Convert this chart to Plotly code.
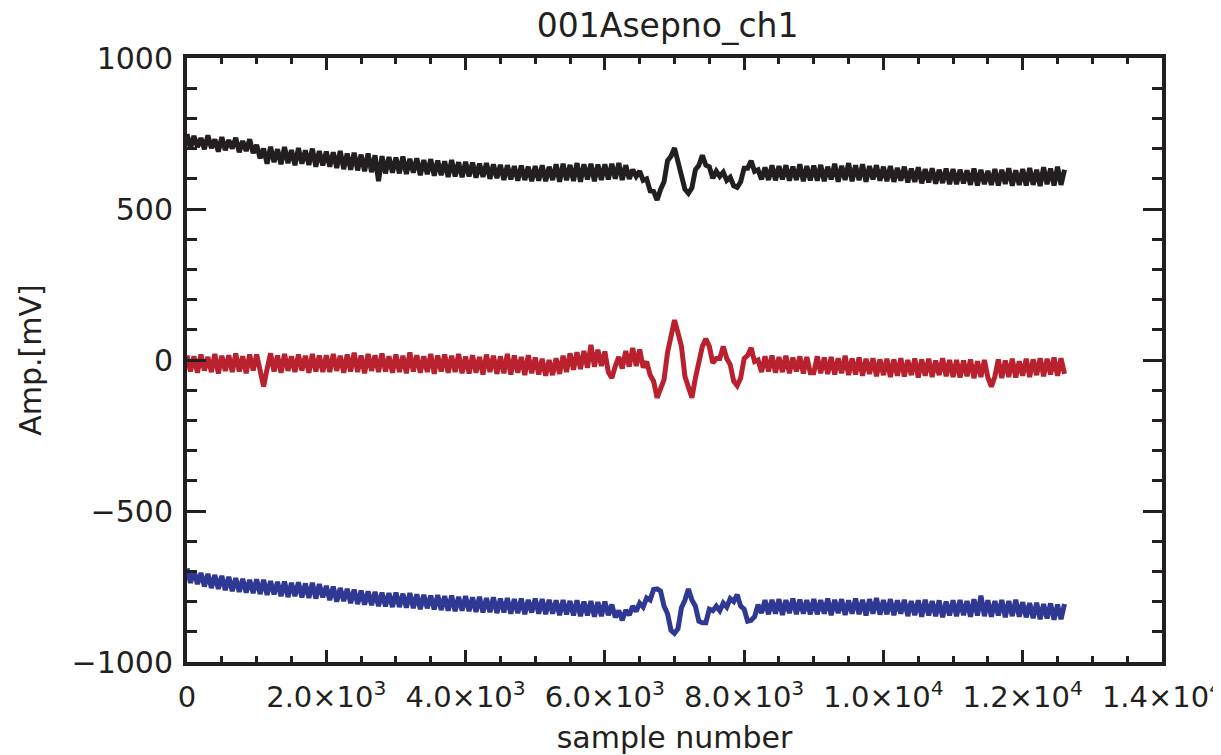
import numpy as np
import plotly.graph_objects as go

# ---------------- data (one value every 50 samples) ----------------
sample_step = 50

black_mv = [
    748, 700, 742, 705, 735, 698, 744, 702, 730, 690, 738, 695, 728, 700, 736, 688, 725, 692, 731, 685,
    712, 668, 700, 650, 706, 655, 698, 648, 705, 652, 695, 645, 702, 650, 694, 646, 700, 640, 692, 644,
    690, 640, 688, 636, 692, 632, 684, 630, 686, 628, 680, 625, 684, 622, 678, 592, 675, 618, 672, 620,
    670, 618, 674, 616, 666, 620, 668, 612, 662, 615, 665, 610, 660, 612, 658, 606, 662, 608, 655, 605,
    656, 608, 654, 604, 650, 606, 652, 600, 648, 602, 646, 596, 645, 598, 642, 594, 644, 596, 640, 592,
    642, 594, 645, 592, 640, 596, 648, 590, 650, 595, 646, 593, 652, 590, 648, 598, 650, 592, 647, 596,
    648, 598, 650, 600, 652, 596, 645, 600, 630, 608, 625, 595, 600, 560, 558, 530, 565, 590, 660, 675,
    702, 655, 625, 565, 552, 570, 630, 645, 678, 645, 640, 602, 625, 608, 622, 595, 605, 577, 572, 590,
    635, 635, 660, 625, 630, 598, 638, 596, 645, 595, 642, 598, 645, 594, 640, 596, 648, 592, 642, 595,
    644, 594, 646, 592, 640, 598, 650, 590, 643, 596, 652, 592, 645, 595, 648, 590, 642, 598, 645, 594,
    640, 592, 642, 590, 636, 594, 640, 588, 634, 590, 638, 585, 632, 588, 635, 584, 630, 586, 634, 582,
    632, 582, 630, 585, 628, 580, 634, 578, 630, 582, 626, 580, 632, 578, 630, 583, 635, 577, 628, 580,
    632, 578, 636, 580, 630, 576, 638, 582, 634, 578, 640, 580, 630,
]

red_mv = [
    15, -38, 12, -42, 18, -35, 10, -40, 20, -45, 14, -36, 16, -40, 22, -38, 12, -44, 18, -35,
    18, -40, -88, -30, 22, -38, 15, -42, 20, -36, 12, -40, 18, -35, 14, -42, 20, -38, 15, -40,
    16, -40, 20, -36, 14, -42, 18, -38, 24, -40, 15, -44, 20, -36, 16, -40, 22, -38, 12, -42,
    18, -40, 14, -44, 25, -38, 16, -42, 12, -40, 20, -46, 15, -38, 18, -42, 14, -40, 20, -44,
    12, -45, 16, -42, 10, -48, 18, -40, 14, -46, 12, -44, 20, -48, 15, -42, 10, -50, 16, -44,
    8, -48, 4, -52, 0, -50, 6, -46, 14, -40, 22, -32, 26, -30, 30, -26, 50, -22, 34, -20,
    28, -40, -60, -20, 10, -28, 30, -22, 40, -20, 35, -25, -5, -50, -70, -125, -90, -65, 25, 75,
    132, 90, 45, -55, -90, -125, -60, -10, 45, 70, 45, -10, 5, 5, 45, 5, -15, -70, -85, -60,
    5, 15, 40, -5, 0, -40, 12, -38, 15, -42, 10, -40, 14, -44, 8, -38, 12, -45, 10, -42,
    -42, 12, -44, 8, -46, 10, -48, 6, -44, 14, -50, 5, -48, 8, -52, 4, -46, 6, -54, 2,
    -50, 4, -56, 2, -52, 6, -55, 0, -50, 5, -58, 2, -52, 4, -56, -2, -50, 6, -54, 0,
    -56, 0, -58, -2, -54, 2, -60, -4, -56, 0, -58, -88, -55, 2, -60, -2, -56, 4, -58, -4,
    -52, 4, -56, 2, -50, 6, -54, 4, -48, 8, -52, 6, -46,
]

blue_mv = [
    -690, -738, -698, -742, -705, -750, -708, -755, -712, -758, -715, -762, -718, -765, -722, -768, -725, -770, -728, -772,
    -726, -775, -728, -778, -732, -776, -735, -782, -734, -785, -738, -782, -736, -786, -740, -788, -738, -790, -742, -786,
    -748, -795, -750, -800, -755, -798, -758, -805, -760, -808, -764, -810, -766, -812, -768, -815, -770, -816, -772, -818,
    -770, -818, -774, -820, -772, -822, -776, -825, -778, -822, -780, -826, -778, -828, -782, -830, -780, -832, -784, -830,
    -782, -832, -786, -834, -784, -836, -788, -835, -786, -838, -790, -836, -788, -840, -792, -838, -790, -842, -794, -836,
    -790, -840, -792, -842, -794, -840, -796, -845, -795, -842, -798, -846, -796, -848, -800, -846, -798, -850, -802, -848,
    -800, -845, -810, -852, -830, -862, -828, -845, -815, -832, -805, -818, -788, -795, -760, -758, -765, -815, -840, -895,
    -905, -890, -820, -795, -758, -795, -815, -865, -870, -870, -825, -830, -815, -830, -805, -818, -790, -800, -777, -815,
    -825, -865, -862, -850, -810, -838, -795, -842, -794, -840, -792, -844, -795, -838, -790, -842, -793, -840, -795, -842,
    -792, -842, -795, -840, -790, -845, -794, -838, -792, -844, -796, -840, -790, -842, -794, -846, -792, -840, -788, -843,
    -795, -842, -792, -845, -796, -840, -794, -848, -798, -845, -796, -850, -794, -846, -798, -848, -796, -852, -800, -846,
    -796, -848, -795, -845, -798, -850, -792, -846, -780, -848, -796, -850, -798, -846, -795, -852, -798, -848, -794, -850,
    -802, -852, -805, -855, -804, -858, -808, -856, -806, -860, -810, -858, -808,
]

x_tick_vals = [0, 2000, 4000, 6000, 8000, 10000, 12000, 14000]
x_tick_text = ["0", "2.0×10<sup>3</sup>", "4.0×10<sup>3</sup>", "6.0×10<sup>3</sup>",
               "8.0×10<sup>3</sup>", "1.0×10<sup>4</sup>", "1.2×10<sup>4</sup>", "1.4×10<sup>4</sup>"]
y_tick_vals = [-1000, -500, 0, 500, 1000]
y_tick_text = ["−1000", "−500", "0", "500", "1000"]

series = [
    ("black", black_mv, "rgb(35,31,32)"),
    ("red", red_mv, "rgb(186,33,46)"),
    ("blue", blue_mv, "rgb(47,57,148)"),
]

FONT = "DejaVu Sans"
INK = "rgb(35,31,32)"

fig = go.Figure()
for name, vals, color in series:
    samples = np.arange(len(vals)) * sample_step
    fig.add_trace(go.Scatter(x=samples, y=vals, mode="lines", name=name,
                             line=dict(color=color, width=5), showlegend=False,
                             hoverinfo="skip"))

# the page body keeps the browser's 8px margin, so the figure is 8px smaller
fig.update_layout(
    width=1213, height=747,
    margin=dict(l=179, r=59, t=50, b=93, autoexpand=False),
    paper_bgcolor="white", plot_bgcolor="white",
    font=dict(family=FONT, color=INK, size=30),
    title=dict(text="001Asepno_ch1", x=0.493, xanchor="center", xref="paper",
               y=0.977, yanchor="middle", yref="container", automargin=False,
               font=dict(family=FONT, size=33, color=INK)),
)

fig.update_xaxes(
    range=[0, 14000], showgrid=False, zeroline=False, automargin=False,
    showline=True, linecolor=INK, linewidth=4, mirror="allticks",
    ticks="inside", ticklen=12, tickwidth=3, tickcolor=INK,
    tickvals=x_tick_vals, ticktext=x_tick_text,
    tickfont=dict(family=FONT, size=29, color=INK),
    ticklabelstandoff=6, ticklabeloverflow="allow",
    minor=dict(ticks="inside", ticklen=6, tickwidth=3, tickcolor=INK, dtick=500, tick0=0, showgrid=False),
    title=dict(text="sample number", font=dict(family=FONT, size=30, color=INK), standoff=16),
)
fig.update_yaxes(
    range=[-1000, 1000], showgrid=False, zeroline=False, automargin=False,
    showline=True, linecolor=INK, linewidth=4, mirror="allticks",
    ticks="inside", ticklen=19, tickwidth=3, tickcolor=INK,
    tickvals=y_tick_vals, ticktext=y_tick_text,
    tickfont=dict(family=FONT, size=30, color=INK),
    ticklabelstandoff=4, ticklabeloverflow="allow",
    minor=dict(ticks="inside", ticklen=10, tickwidth=3, tickcolor=INK, dtick=100, tick0=0, showgrid=False),
    title=dict(text="Amp.[mV]", font=dict(family=FONT, size=30, color=INK), standoff=22),
)

fig.write_html("out.html")
